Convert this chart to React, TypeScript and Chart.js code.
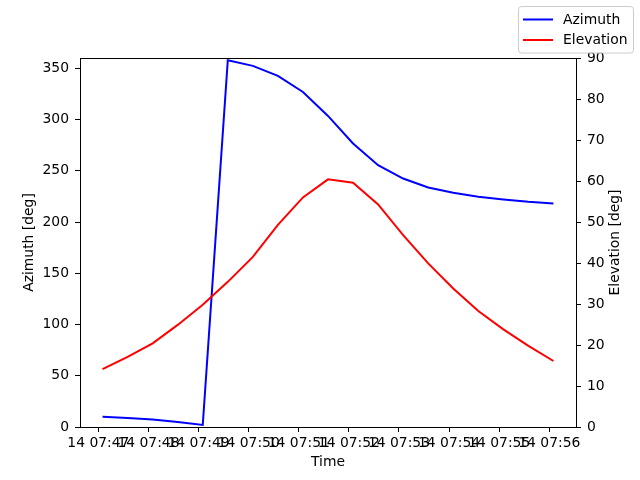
import React, { useEffect, useRef } from "react";
import { Chart, registerables } from "chart.js";

Chart.register(...registerables);

const timeLabels = [
  "07:47:05", "07:47:35", "07:48:05", "07:48:35", "07:49:05", "07:49:35",
  "07:50:05", "07:50:35", "07:51:05", "07:51:35", "07:52:05", "07:52:35",
  "07:53:05", "07:53:35", "07:54:05", "07:54:35", "07:55:05", "07:55:35",
  "07:56:05",
];
const azimuth = [
  10.0, 8.8, 7.4, 4.9, 2.0, 357.8, 352.3, 342.5, 326.9, 303.5, 276.6, 255.4,
  242.4, 233.7, 228.5, 224.6, 222.0, 219.7, 218.1,
];
const elevation = [
  14.1, 17.1, 20.4, 24.9, 29.8, 35.4, 41.5, 49.3, 56.0, 60.4, 59.6, 54.3,
  46.8, 39.9, 33.8, 28.3, 23.8, 19.8, 16.1,
];
const xTickLabels = [
  "14 07:47", "14 07:48", "14 07:49", "14 07:50", "14 07:51",
  "14 07:52", "14 07:53", "14 07:54", "14 07:55", "14 07:56",
];
const azTicks = [0, 50, 100, 150, 200, 250, 300, 350];
const elTicks = [0, 10, 20, 30, 40, 50, 60, 70, 80, 90];
const rightTitle = "Elevation [deg]";

const FONT = "DejaVu Sans";
const FS = 13.9;

function toMinutes(t: string): number {
  const [h, m, s] = t.split(":").map(Number);
  return h * 60 + m + (s || 0) / 60;
}
function tickToMinutes(l: string): number {
  return toMinutes(l.split(" ")[1]);
}

const xs = timeLabels.map(toMinutes);
const xTickValues = xTickLabels.map(tickToMinutes);
const span = xs[xs.length - 1] - xs[0];
const xMin = xs[0] - span * 0.05;
const xMax = xs[xs.length - 1] + span * 0.05;

const framePlugin = {
  id: "frameLegend",
  afterDraw(chart: any) {
    const { ctx, chartArea } = chart;
    ctx.save();
    ctx.strokeStyle = "#000";
    ctx.lineWidth = 1;
    ctx.strokeRect(
      Math.round(chartArea.left) + 0.5,
      Math.round(chartArea.top) + 0.5,
      Math.round(chartArea.right - chartArea.left),
      Math.round(chartArea.bottom - chartArea.top)
    );
    // right axis title, rotated like matplotlib (bottom-to-top)
    ctx.save();
    ctx.font = `${FS}px "${FONT}"`;
    ctx.fillStyle = "#000";
    ctx.textAlign = "center";
    ctx.textBaseline = "middle";
    ctx.translate(615, (chartArea.top + chartArea.bottom) / 2);
    ctx.rotate(-Math.PI / 2);
    ctx.fillText(rightTitle, 0, 0);
    ctx.restore();
    // legend box
    const bx = 518.5, by = 6.5, bw = 115, bh = 46.5, r = 3;
    ctx.beginPath();
    ctx.moveTo(bx + r, by);
    ctx.lineTo(bx + bw - r, by);
    ctx.quadraticCurveTo(bx + bw, by, bx + bw, by + r);
    ctx.lineTo(bx + bw, by + bh - r);
    ctx.quadraticCurveTo(bx + bw, by + bh, bx + bw - r, by + bh);
    ctx.lineTo(bx + r, by + bh);
    ctx.quadraticCurveTo(bx, by + bh, bx, by + bh - r);
    ctx.lineTo(bx, by + r);
    ctx.quadraticCurveTo(bx, by, bx + r, by);
    ctx.closePath();
    ctx.fillStyle = "rgba(255,255,255,0.8)";
    ctx.fill();
    ctx.strokeStyle = "#cccccc";
    ctx.stroke();
    ctx.font = `${FS}px "${FONT}"`;
    ctx.textBaseline = "middle";
    ctx.textAlign = "left";
    chart.data.datasets.forEach((ds: any, i: number) => {
      const y = 19.5 + i * 20.5;
      ctx.strokeStyle = ds.borderColor;
      ctx.lineWidth = 2;
      ctx.beginPath();
      ctx.moveTo(523, y);
      ctx.lineTo(553, y);
      ctx.stroke();
      ctx.fillStyle = "#000";
      ctx.fillText(ds.label, 563, y + 0.5);
    });
    ctx.restore();
  },
};

export default function App() {
  const ref = useRef<HTMLCanvasElement | null>(null);
  useEffect(() => {
    if (!ref.current) return;
    Chart.defaults.font.family = FONT;
    Chart.defaults.font.size = FS;
    Chart.defaults.color = "#000";
    const chart = new Chart(ref.current, {
      type: "line",
      data: {
        datasets: [
          {
            label: "Azimuth",
            data: xs.map((x, i) => ({ x, y: azimuth[i] })),
            borderColor: "#0000ff",
            backgroundColor: "#0000ff",
            borderWidth: 2,
            pointRadius: 0,
            tension: 0,
            yAxisID: "y",
            order: 1,
          },
          {
            label: "Elevation",
            data: xs.map((x, i) => ({ x, y: elevation[i] })),
            borderColor: "#ff0000",
            backgroundColor: "#ff0000",
            borderWidth: 2,
            pointRadius: 0,
            tension: 0,
            yAxisID: "y1",
            order: 0,
          },
        ],
      },
      options: {
        animation: false,
        responsive: false,
        devicePixelRatio: 1,
        layout: { padding: { top: 58, left: 0, right: 0, bottom: 0 } },
        plugins: { legend: { display: false }, tooltip: { enabled: false } },
        scales: {
          x: {
            type: "linear",
            min: xMin,
            max: xMax,
            afterBuildTicks: (s: any) => {
              s.ticks = xTickValues.map((v) => ({ value: v }));
            },
            afterFit: (s: any) => {
              s.height = 53;
            },
            ticks: {
              autoSkip: false,
              maxRotation: 0,
              minRotation: 0,
              padding: 3,
              color: "#000",
              callback: (v: any) => {
                const i = xTickValues.findIndex((t) => Math.abs(t - v) < 1e-6);
                return i >= 0 ? xTickLabels[i] : "";
              },
            },
            grid: {
              drawOnChartArea: false,
              tickLength: 5,
              color: "#000",
              tickColor: "#000",
            },
            border: { display: true, color: "#000" },
            title: {
              display: true,
              text: "Time",
              color: "#000",
              font: { size: FS },
              padding: { top: 0, bottom: 9.5 },
            },
          },
          y: {
            type: "linear",
            position: "left",
            min: 0,
            max: 360,
            afterBuildTicks: (s: any) => {
              s.ticks = azTicks.map((v) => ({ value: v }));
            },
            afterFit: (s: any) => {
              s.width = 80;
            },
            ticks: { padding: 6, color: "#000" },
            grid: {
              drawOnChartArea: false,
              tickLength: 5,
              color: "#000",
              tickColor: "#000",
            },
            border: { display: true, color: "#000" },
            title: {
              display: true,
              text: "Azimuth [deg]",
              color: "#000",
              font: { size: FS },
              padding: { top: 21.5, bottom: 0 },
            },
          },
          y1: {
            type: "linear",
            position: "right",
            min: 0,
            max: 90,
            afterBuildTicks: (s: any) => {
              s.ticks = elTicks.map((v) => ({ value: v }));
            },
            afterFit: (s: any) => {
              s.width = 64;
            },
            ticks: { padding: 6, color: "#000" },
            grid: {
              drawOnChartArea: false,
              tickLength: 5,
              color: "#000",
              tickColor: "#000",
            },
            border: { display: true, color: "#000" },
            title: { display: false },
          },
        },
      },
      plugins: [framePlugin],
    });
    return () => chart.destroy();
  }, []);
  return (
    <div style={{ position: "fixed", left: 0, top: 0, width: 640, height: 480, background: "#fff" }}>
      <canvas ref={ref} width={640} height={480} style={{ width: 640, height: 480 }} />
    </div>
  );
}
